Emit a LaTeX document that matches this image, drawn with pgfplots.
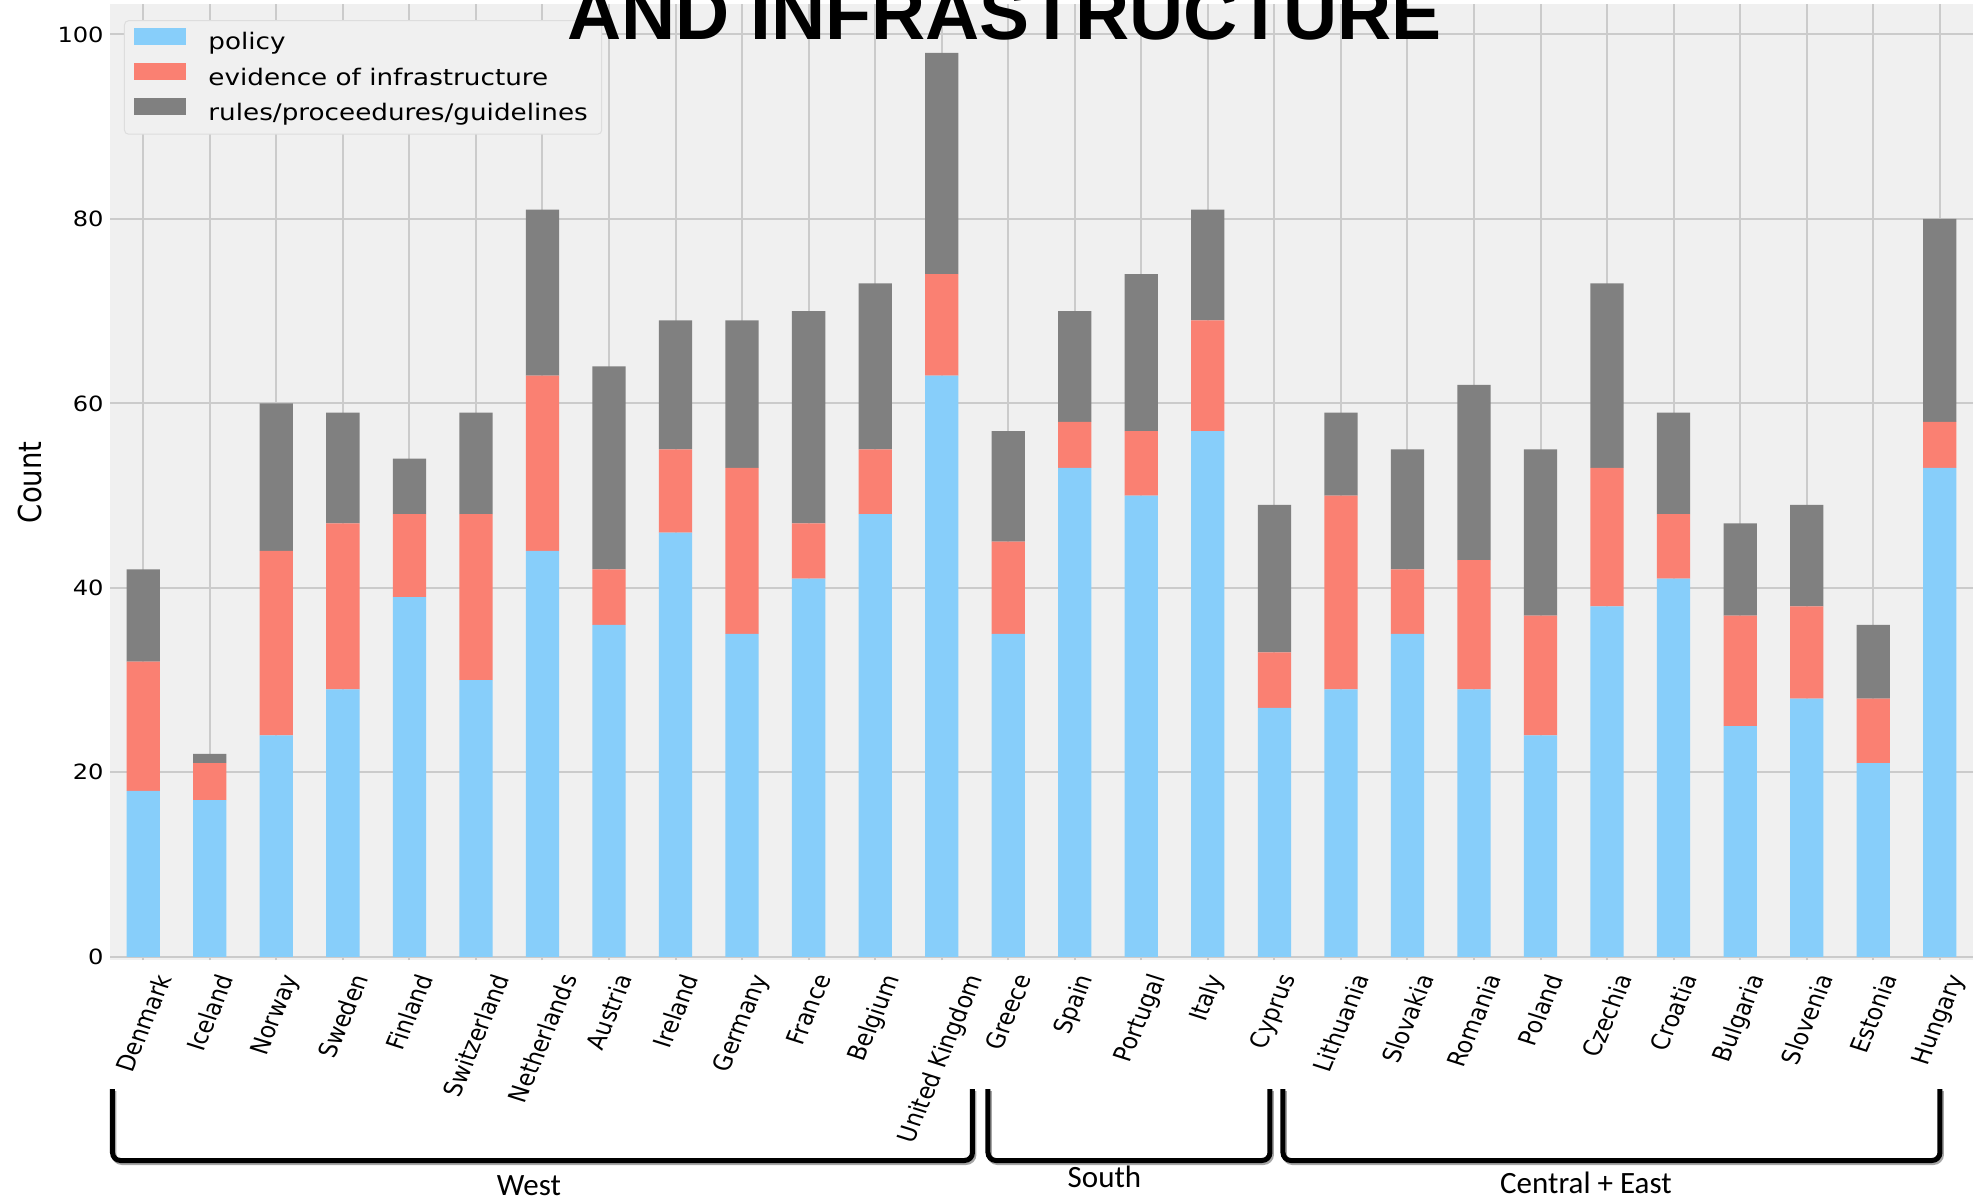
\documentclass[border=0pt]{standalone}
\usepackage{pgfplots}
\pgfplotsset{compat=1.18}
\usepackage{pgfplotstable}
\usepackage{graphicx}
\usepackage{fontspec}
\setmainfont{DejaVu Sans}
\newfontfamily\dvs{DejaVu Sans}
\newfontfamily\dvsw{DejaVu Sans}[FakeStretch=1.15]
\newfontfamily\carl{Carlito}
\newfontfamily\titlef{Liberation Sans}
\definecolor{bg}{HTML}{F0F0F0}
\definecolor{gridc}{HTML}{CBCBCB}
\definecolor{pol}{HTML}{87CEFA}
\definecolor{evi}{HTML}{FA8072}
\definecolor{rul}{HTML}{808080}
\definecolor{lframe}{HTML}{DDDDDD}
\newcommand\xl[1]{\scalebox{1.15}[1]{\rotatebox{70}{#1}}}

\pgfplotstableread{
x p e r
0 18 14 10
1 17 4 1
2 24 20 16
3 29 18 12
4 39 9 6
5 30 18 11
6 44 19 18
7 36 6 22
8 46 9 14
9 35 18 16
10 41 6 23
11 48 7 18
12 63 11 24
13 35 10 12
14 53 5 12
15 50 7 17
16 57 12 12
17 27 6 16
18 29 21 9
19 35 7 13
20 29 14 19
21 24 13 18
22 38 15 20
23 41 7 11
24 25 12 10
25 28 10 11
26 21 7 8
27 53 5 22
}\data

\begin{document}
\begin{tikzpicture}
\begin{axis}[
  at={(55bp,119.25bp)}, anchor=south west,
  scale only axis, width=931.5bp, height=478.25bp,
  xmin=-0.5, xmax=27.5, ymin=-0.4, ymax=103.3,
  ybar stacked, bar width=0.5,
  axis background/.style={fill=bg},
  axis line style={draw=none},
  major tick length=0pt,
  grid=major, major grid style={gridc, line width=1bp},
  xtick={0,...,27},
  xticklabels={\xl{Denmark},\xl{Iceland},\xl{Norway},\xl{Sweden},\xl{Finland},\xl{Switzerland},\xl{Netherlands},\xl{Austria},\xl{Ireland},\xl{Germany},\xl{France},\xl{Belgium},\xl{United Kingdom},\xl{Greece},\xl{Spain},\xl{Portugal},\xl{Italy},\xl{Cyprus},\xl{Lithuania},\xl{Slovakia},\xl{Romania},\xl{Poland},\xl{Czechia},\xl{Croatia},\xl{Bulgaria},\xl{Slovenia},\xl{Estonia},\xl{Hungary}},
  xticklabel style={anchor=north, inner sep=0pt, yshift=-5.75bp, font=\dvs\fontsize{11bp}{13bp}\selectfont},
  ytick={0,20,...,100},
  yticklabel style={anchor=east, inner sep=0pt, xshift=-3bp, font=\dvsw\fontsize{10.5bp}{12bp}\selectfont},
  /pgf/number format/assume math mode=true,
  ylabel={\scalebox{1}[1.15]{Count}},
  ylabel style={at={(axis description cs:0,0.5)}, anchor=center, yshift=40bp, font=\dvs\fontsize{13.75bp}{16bp}\selectfont},
  legend cell align=left,
  legend style={at={(axis description cs:0.0075,0.983)}, anchor=north west,
    fill=bg, draw=lframe, line width=0.5bp, rounded corners=2bp,
    font=\dvsw\fontsize{11.4bp}{13bp}\selectfont,
    inner xsep=5bp, inner ysep=3.5bp, row sep=3bp,
    /tikz/every odd column/.append style={column sep=9bp}},
  legend image code/.code={\fill[#1, sharp corners] (0bp,-1bp) rectangle (26bp,7.5bp);},
]
\addplot[fill=pol, draw=none] table[x=x, y=p]{\data};
\addplot[fill=evi, draw=none] table[x=x, y=e]{\data};
\addplot[fill=rul, draw=none] table[x=x, y=r]{\data};
\legend{policy, evidence of infrastructure, rules/proceedures/guidelines}
\end{axis}
\node[font=\titlef\bfseries\fontsize{37.5bp}{40bp}\selectfont, anchor=base] at (502.25bp,579.5bp) {AND INFRASTRUCTURE};
\begin{scope}[x=0.5bp, y=0.5bp]
  \foreach \a/\b in {112.5/972.5, 988/1270, 1283/1940}{
    \draw[black!35, line width=2.5bp, rounded corners=4bp] (\a+1.5,108) -- (\a+1.5,36.5) -- (\b+1.5,36.5) -- (\b+1.5,108);
    \draw[black, line width=2.5bp, rounded corners=4bp] (\a,110) -- (\a,38.5) -- (\b,38.5) -- (\b,110);
  }
  \node[font=\carl\fontsize{15.5bp}{18bp}\selectfont, anchor=base] at (529,4) {West};
  \node[font=\carl\fontsize{15.5bp}{18bp}\selectfont, anchor=base] at (1104.5,12) {South};
  \node[font=\carl\fontsize{15.5bp}{18bp}\selectfont, anchor=base] at (1586,6) {Central + East};
\end{scope}
\pgfresetboundingbox
\path[use as bounding box] (0,0) rectangle (988.5bp,599.5bp);
\end{tikzpicture}
\end{document}
